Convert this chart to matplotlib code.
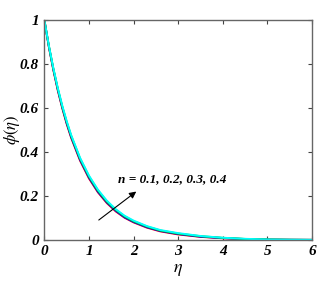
import numpy as np
import matplotlib.pyplot as plt

plt.rcParams['font.family'] = 'Liberation Serif'
plt.rcParams['mathtext.fontset'] = 'stix'

# similarity variable and concentration profiles
eta = [0, 0.1, 0.2, 0.3, 0.4, 0.5, 0.6, 0.8, 1.0, 1.2, 1.4, 1.6, 1.8, 2.0,
       2.3, 2.6, 3.0, 3.5, 4.0, 4.5, 5.0, 5.5, 6.0]
phi_n01 = [1, 0.879, 0.774, 0.681, 0.600, 0.528, 0.465, 0.361, 0.280, 0.217, 0.168, 0.130,
           0.101, 0.080, 0.056, 0.039, 0.025, 0.014, 0.0075, 0.0035, 0.0015, 0.0006, 0.0002]
phi_n02 = [1, 0.881, 0.777, 0.685, 0.604, 0.532, 0.469, 0.365, 0.284, 0.220, 0.171, 0.133,
           0.103, 0.082, 0.058, 0.041, 0.027, 0.015, 0.0085, 0.004, 0.0017, 0.0007, 0.0002]
phi_n03 = [1, 0.883, 0.780, 0.689, 0.608, 0.537, 0.474, 0.370, 0.289, 0.225, 0.175, 0.137,
           0.107, 0.085, 0.061, 0.043, 0.029, 0.017, 0.0095, 0.0045, 0.002, 0.0008, 0.0002]
phi_n04 = [1, 0.885, 0.783, 0.692, 0.612, 0.541, 0.478, 0.374, 0.293, 0.229, 0.179, 0.140,
           0.110, 0.088, 0.063, 0.045, 0.031, 0.018, 0.010, 0.005, 0.0022, 0.0009, 0.0003]

xticks = [0, 1, 2, 3, 4, 5, 6]
yticks = [0, 0.2, 0.4, 0.6, 0.8, 1]
ytick_labels = ['0', '0.2', '0.4', '0.6', '0.8', '1']

fig = plt.figure(figsize=(3.29, 2.87), dpi=100)
ax = fig.add_axes([0.135, 0.164, 0.813, 0.765])

ax.plot(eta, phi_n01, color='red', lw=1.4)
ax.plot(eta, phi_n02, color='blue', lw=1.4)
ax.plot(eta, phi_n03, color='#00cc00', lw=1.4)
ax.plot(eta, phi_n04, color='cyan', lw=1.4)

ax.set_xlim(0, 6)
ax.set_ylim(0, 1)
ax.set_xticks(xticks)
ax.set_xticklabels([str(t) for t in xticks])
ax.set_yticks(yticks)
ax.set_yticklabels(ytick_labels)
ax.tick_params(direction='in', top=True, right=True, length=3, width=0.8,
               color='#444444', labelsize=11, pad=4)
for lab in ax.get_xticklabels() + ax.get_yticklabels():
    lab.set_fontweight('bold')
    lab.set_fontstyle('italic')
for sp in ax.spines.values():
    sp.set_color('#666666')
    sp.set_linewidth(1.0)

ax.set_xlabel(r'$\eta$', fontsize=13, labelpad=2)
ax.set_ylabel(r'$\phi(\eta)$', fontsize=12)
ax.yaxis.set_label_coords(-0.085, 0.5)

ax.annotate('', xy=(2.11, 0.228), xytext=(1.17, 0.083),
            arrowprops=dict(arrowstyle='-|>', color='black', lw=0.8,
                            mutation_scale=10))
ax.text(1.65, 0.275, 'n = 0.1, 0.2, 0.3, 0.4', fontsize=9.5, fontweight='bold',
        fontstyle='italic', va='center')

fig.savefig('out.png', dpi=100)
